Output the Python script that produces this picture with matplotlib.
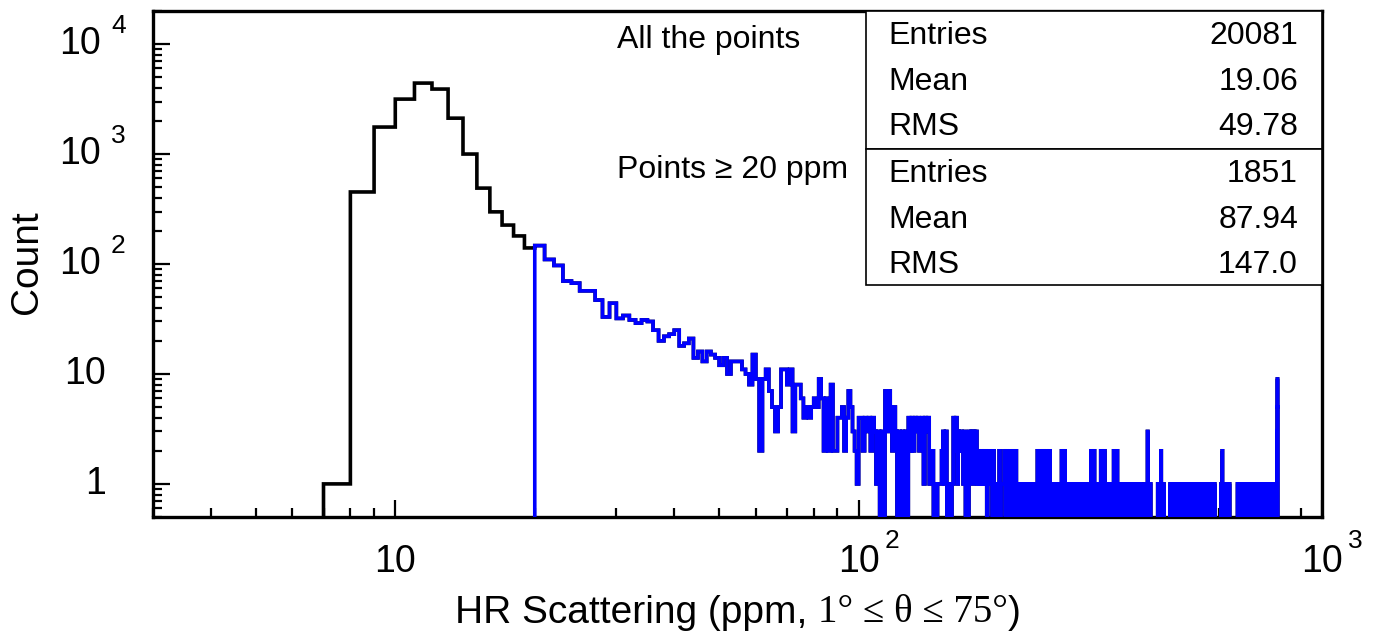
import numpy as np
import matplotlib.pyplot as plt
import matplotlib.ticker as mticker
from matplotlib import transforms
from matplotlib.patches import Rectangle

# --- data (1 ppm bins) ---
black_start = 7
black_counts = [1, 452, 1760, 3160, 4420, 3900, 2120, 1000, 490, 298, 226, 180, 140]  # 7..19

blue_start = 20
blue_counts = [
    147, 110, 97, 70, 67, 57, 57, 47, 33, 44,    # 20-29
    32, 34, 31, 29, 31, 30, 25, 20, 22, 23,      # 30-39
    25, 18, 19, 21, 14, 16, 13, 16, 15, 14,      # 40-49
    12, 14, 10, 13, 13, 13, 11, 10, 8, 15,       # 50-59
    9, 2, 9, 11, 7, 5, 3, 5, 11, 11,             # 60-69
    8, 11, 3, 8, 8, 6, 4, 5, 4, 5,               # 70-79
    6, 5, 9, 6, 2, 6, 2, 8, 2, 2,                # 80-89
    4, 4, 5, 2, 4, 7, 5, 3, 2, 1,                # 90-99
    4, 4, 2, 4, 3, 4, 2, 4, 3, 1,                # 100-109
    3, 0, 3, 0, 7, 3, 7, 5, 2, 5,                # 110-119
    3, 0, 3, 0, 3, 0, 3, 0, 4, 2,                # 120-129
    4, 2, 4, 3, 4, 2, 3, 4, 1, 4,                # 130-139
    3, 4, 1, 2, 2, 0, 1, 0, 1, 1,                # 140-149
    1, 2, 3, 1, 3, 0, 1, 0, 0, 1,                # 150-159
    4, 2, 4, 1, 3, 2, 3, 2, 1, 3,                # 160-169
    0, 1, 0, 3, 2, 3, 1, 3, 2, 3,                # 170-179
    1, 2, 1, 2, 1, 2, 1, 2, 1, 0,                # 180-189
    2, 2, 1,                                     # 190-192
]

# sparse tail above 192 ppm: bin lower edge -> count
tail_bins = [193, 195, 197, 199, 201, 203, 204, 205, 206, 208, 210, 212, 214, 216, 218,
             220, 222, 225, 227, 229, 231, 233, 235, 238, 240, 243, 245, 247, 250, 252,
             254, 256, 258, 262, 264, 266, 268, 271, 274, 276, 278, 281, 284, 287, 290,
             293, 296, 299, 301, 302, 305, 309, 313, 317, 320, 322, 326, 330, 333, 336, 339,
             343, 347, 351, 355, 358, 361, 365, 369, 373, 377, 381, 385, 389, 393, 397,
             401, 404, 409, 417, 420, 423, 426, 442, 446, 449, 452, 455, 470, 474, 478,
             482, 486, 490, 494, 500, 504, 508, 512, 516, 520, 524, 528, 532, 536, 540,
             544, 548, 552, 556, 561, 566, 571, 576, 581, 586, 605, 609, 613, 617, 621,
             626, 631, 657, 661, 665, 669, 681, 686, 691, 698, 704, 710, 719, 725, 731,
             736, 741, 746, 752, 758, 764, 770, 776, 782, 788, 794, 799, 800, 801, 802]
tail_counts = [1, 2, 1, 1, 2, 1, 1, 1, 2, 2, 1, 2, 1, 2, 2,
               1, 1, 1, 1, 1, 1, 1, 1, 1, 1, 2, 1, 2, 2, 1,
               2, 1, 2, 1, 1, 1, 1, 1, 2, 1, 2, 1, 1, 1, 1,
               1, 1, 1, 1, 1, 1, 1, 1, 2, 1, 2, 1, 1, 2, 1, 2,
               1, 1, 1, 2, 1, 2, 1, 1, 1, 1, 1, 1, 1, 1, 1,
               1, 1, 1, 1, 3, 1, 1, 1, 1, 2, 1, 1, 1, 1, 1,
               1, 1, 1, 1, 1, 1, 1, 1, 1, 1, 1, 1, 1, 1, 1,
               1, 1, 1, 1, 1, 1, 1, 1, 1, 1, 1, 2, 1, 1, 1,
               1, 1, 1, 1, 1, 1, 1, 1, 1, 1, 1, 1, 1, 1, 1,
               1, 1, 1, 1, 1, 1, 1, 1, 1, 1, 1, 3, 5, 9, 5]

stats_all = [("Entries", "20081"), ("Mean", "19.06"), ("RMS", "49.78")]
stats_sel = [("Entries", "1851"), ("Mean", "87.94"), ("RMS", "147.0")]

# --- build full arrays ---
blue_end = max(tail_bins) + 1
blue = np.zeros(blue_end - blue_start)
blue[:len(blue_counts)] = blue_counts
for b, c in zip(tail_bins, tail_counts):
    blue[b - blue_start] = c
allpts = np.concatenate([np.array(black_counts, float), blue])

W, H = 1377, 642
plt.rcParams['font.family'] = ['Liberation Sans', 'DejaVu Sans']
fig = plt.figure(figsize=(W / 100, H / 100), dpi=100)
fig.patch.set_facecolor('white')

def fx(px):
    return px / W

def fy(py):
    return 1 - py / H

L, R, T, B = 153, 1322, 11, 517
ax = fig.add_axes([fx(L), fy(B), fx(R - L), (B - T) / H])

floor = 0.05
def draw_hist(start, counts, color, z):
    counts = np.asarray(counts, float)
    edges = np.arange(start, start + len(counts) + 1)
    vals = np.where(counts > 0, counts, floor)
    ax.stairs(vals, edges, baseline=floor, color=color, lw=2.6, zorder=z)

draw_hist(black_start, allpts, 'black', 2)
draw_hist(blue_start, blue, '#0000ff', 3)

ax.set_xscale('log')
ax.set_yscale('log')
ax.set_xlim(3, 1000)
ax.set_ylim(0.5, 2e4)

for s in ax.spines.values():
    s.set_linewidth(2.4)
ax.xaxis.set_major_locator(mticker.LogLocator(base=10, numticks=10))
ax.xaxis.set_minor_locator(mticker.LogLocator(base=10, subs=np.arange(2, 10), numticks=20))
ax.yaxis.set_major_locator(mticker.LogLocator(base=10, numticks=10))
ax.yaxis.set_minor_locator(mticker.LogLocator(base=10, subs=np.arange(2, 10), numticks=20))
for axis in (ax.xaxis, ax.yaxis):
    axis.set_major_formatter(mticker.NullFormatter())
    axis.set_minor_formatter(mticker.NullFormatter())
ax.tick_params(which='both', direction='in', top=False, right=False, width=1.6, color='black')
ax.tick_params(which='major', length=12.5)
ax.tick_params(which='minor', length=6.5)

# tick labels, ROOT style
tsize, esize = 27, 19
xt = transforms.blended_transform_factory(ax.transData, fig.transFigure)
xoff = transforms.offset_copy(xt, fig=fig, x=26, y=0, units='dots')
ax.text(10, fy(562), "10", transform=xt, ha='center', va='center', fontsize=tsize)
for xv, e in [(100, "2"), (1000, "3")]:
    ax.text(xv, fy(562), "10", transform=xt, ha='center', va='center', fontsize=tsize)
    ax.text(xv, fy(541), e, transform=xoff, ha='left', va='center', fontsize=esize)

yt = transforms.blended_transform_factory(fig.transFigure, ax.transData)
ax.text(fx(106), 1, "1", transform=yt, ha='right', va='center', fontsize=tsize)
ax.text(fx(106), 10, "10", transform=yt, ha='right', va='center', fontsize=tsize)
for yv, e in [(100, "2"), (1000, "3"), (10000, "4")]:
    ax.text(fx(101), yv, "10", transform=yt, ha='right', va='center', fontsize=tsize)
    ax.text(fx(111), yv * 1.45, e, transform=yt, ha='left', va='center', fontsize=esize)

fig.text(fx(27), fy(262), "Count", rotation=90, ha='center', va='center', fontsize=28)

# x title: sans part + serif part
fig.canvas.draw()
rend = fig.canvas.get_renderer()
parts = [("HR Scattering (ppm, ", 'Liberation Sans'),
         ("1° ≤ θ ≤ 75°", 'Liberation Serif'),
         (")", 'Liberation Sans')]
objs = []
for txt, fam in parts:
    objs.append(fig.text(0, fy(613), txt, family=fam, fontsize=28, ha='left', va='center'))
widths = [o.get_window_extent(rend).width for o in objs]
x0 = (L + R) / 2 - sum(widths) / 2
for o, w in zip(objs, widths):
    o.set_x(fx(x0))
    x0 += w

# annotations
fig.text(fx(617), fy(40), "All the points", fontsize=23, ha='left', va='center')
fig.text(fx(617), fy(170), "Points ≥ 20 ppm", fontsize=23, ha='left', va='center')

# stats boxes
bx0, bx1 = 866, R
for top, bot, rows in [(T, 149, stats_all), (149, 285, stats_sel)]:
    fig.patches.append(Rectangle((fx(bx0), fy(bot)), fx(bx1 - bx0), (bot - top) / H,
                                 transform=fig.transFigure, facecolor='white',
                                 edgecolor='black', lw=1.2, zorder=5))
    for i, (k, v) in enumerate(rows):
        yc = top + 25 + i * 45.5
        fig.text(fx(888), fy(yc), k, fontsize=23, ha='left', va='center', zorder=6)
        fig.text(fx(1298), fy(yc), v, fontsize=23, ha='right', va='center', zorder=6)

fig.savefig('out.png', dpi=100, facecolor='white')
